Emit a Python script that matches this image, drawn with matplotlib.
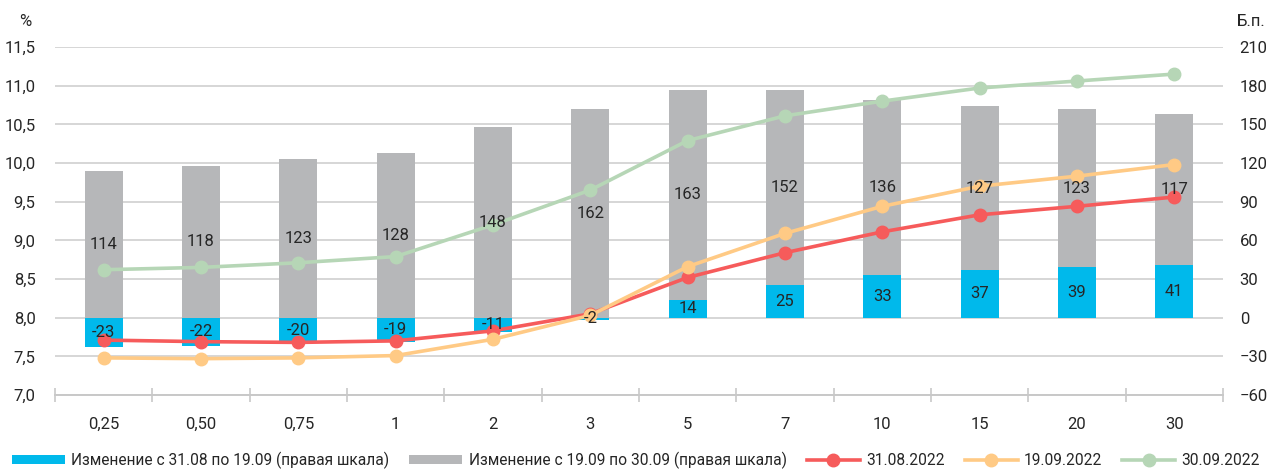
import matplotlib
matplotlib.use("Agg")
import matplotlib.pyplot as plt
import numpy as np
from matplotlib.patches import Patch
from matplotlib.lines import Line2D

plt.rcParams['font.family'] = ['Roboto', 'DejaVu Sans']

categories = ["0,25", "0,50", "0,75", "1", "2", "3", "5", "7", "10", "15", "20", "30"]
change_1 = [-23, -22, -20, -19, -11, -2, 14, 25, 33, 37, 39, 41]
change_2 = [114, 118, 123, 128, 148, 162, 163, 152, 136, 127, 123, 117]
y_3108 = [7.71, 7.69, 7.68, 7.70, 7.83, 8.05, 8.52, 8.84, 9.11, 9.33, 9.44, 9.56]
y_1909 = [7.48, 7.47, 7.48, 7.51, 7.72, 8.03, 8.66, 9.09, 9.44, 9.70, 9.83, 9.98]
y_3009 = [8.62, 8.65, 8.71, 8.79, 9.20, 9.65, 10.29, 10.61, 10.80, 10.97, 11.06, 11.15]

c_blue = "#00B9EB"
c_gray = "#B6B7B9"
c_red = "#F65B5B"
c_orange = "#FFCA85"
c_green = "#B6D6B6"
txt = "#262626"

fig = plt.figure(figsize=(12.72, 4.70), dpi=100)
ax = fig.add_axes([55/1272, 1-395/470, (1223-55)/1272, (395-47)/470])
ax2 = ax.twinx()
ax.set_zorder(ax2.get_zorder() + 1)
ax.patch.set_visible(False)

x = np.arange(len(categories))
c1 = np.array(change_1)
c2 = np.array(change_2)
bottom2 = np.where(c1 > 0, c1, 0)
w = 0.39
ax2.bar(x, c1, width=w, color=c_blue, zorder=2)
ax2.bar(x, c2, width=w, bottom=bottom2, color=c_gray, zorder=2)

ax2.set_ylim(-60, 210)
ax2.set_yticks(np.arange(-60, 211, 30))
ax2.set_axisbelow(True)
ax2.grid(axis='y', color='#D0D0D0', linewidth=1.2, zorder=0)

ax.set_ylim(7.0, 11.5)
ax.set_yticks(np.arange(7.0, 11.51, 0.5))
ax.set_yticklabels([f"{v:.1f}".replace('.', ',') for v in np.arange(7.0, 11.51, 0.5)])

for yv, col in [(y_3108, c_red), (y_1909, c_orange), (y_3009, c_green)]:
    ax.plot(x, yv, color=col, linewidth=2.6, marker='o', markersize=9, zorder=3)

# bar labels
for i in range(len(x)):
    ax.text(x[i], c1[i] / 2, f"{c1[i]}", transform=ax2.transData, ha='center', va='center',
            fontsize=12, color=txt, zorder=5)
    ax.text(x[i], bottom2[i] + c2[i] / 2, f"{c2[i]}", transform=ax2.transData, ha='center',
            va='center', fontsize=12, color=txt, zorder=5)

ax.set_xlim(-0.5, len(x) - 0.5)
ax.set_xticks(x)
ax.set_xticklabels(categories)
ax.set_xticks(np.arange(-0.5, len(x), 1.0), minor=True)
ax.tick_params(axis='x', which='major', length=0, pad=16, labelsize=12, labelcolor=txt)
ax.tick_params(axis='x', which='minor', length=10, direction='inout', color='#C8C8C8', width=1.2)
ax.tick_params(axis='y', length=0, labelsize=12, labelcolor=txt, pad=14)
ax2.tick_params(axis='y', length=0, labelsize=12, labelcolor=txt, pad=12)
ax2.tick_params(axis='x', length=0)

for a in (ax, ax2):
    for s in ['top', 'left', 'right']:
        a.spines[s].set_visible(False)
    a.spines['bottom'].set_color('#C8C8C8')
    a.spines['bottom'].set_linewidth(1.2)

fig.text(25/1272, 1-22/470, "%", ha='center', va='center', fontsize=12, color=txt)
fig.text(1251/1272, 1-22/470, "Б.п.", ha='center', va='center', fontsize=12, color=txt)

handles = [
    Patch(facecolor=c_blue, edgecolor='none'),
    Patch(facecolor=c_gray, edgecolor='none'),
    Line2D([], [], color=c_red, linewidth=2.6, marker='o', markersize=9),
    Line2D([], [], color=c_orange, linewidth=2.6, marker='o', markersize=9),
    Line2D([], [], color=c_green, linewidth=2.6, marker='o', markersize=9),
]
labels = ["Изменение с 31.08 по 19.09 (правая шкала)", "Изменение с 19.09 по 30.09 (правая шкала)",
          "31.08.2022", "19.09.2022", "30.09.2022"]
fig.legend(handles, labels, ncol=5, loc='center', bbox_to_anchor=(0.5, 1-460/470), frameon=False,
           fontsize=11.2, handlelength=3.4, handleheight=0.5, handletextpad=0.4, columnspacing=1.3,
           labelcolor=txt, borderaxespad=0, borderpad=0)

fig.savefig("out.png", dpi=100)
